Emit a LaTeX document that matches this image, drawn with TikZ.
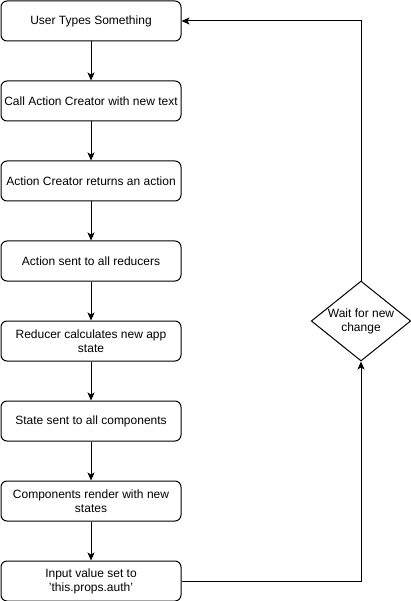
\documentclass[tikz,border=0pt]{standalone}
\usepackage{fontspec}
\setmainfont{Liberation Sans}
\usetikzlibrary{arrows.meta,shapes.geometric}
\begin{document}
\begin{tikzpicture}[x=1pt,y=-1pt,
  txt/.style={font=\fontsize{12}{14}\selectfont,align=center},
  stepbox/.style={draw,line width=1pt,rounded corners=6pt,minimum width=180pt,minimum height=40pt,inner sep=0pt,txt},
  waitdia/.style={draw,line width=1pt,diamond,minimum width=99.5pt,minimum height=80pt,inner sep=0pt},
  flow/.style={line width=1pt,-{Stealth[length=8pt,width=7pt,inset=2pt]}}]
\useasboundingbox (0,0) rectangle (411,601);
\node[stepbox] (a) at (91,21) {User Types Something};
\node[stepbox] (b) at (91,101) {Call Action Creator with new text};
\node[stepbox] (c) at (91,181) {Action Creator returns an action};
\node[stepbox] (d) at (91,261) {Action sent to all reducers};
\node[stepbox] (e) at (91,341) {Reducer calculates new app\\state};
\node[stepbox] (f) at (91,421) {State sent to all components};
\node[stepbox] (g) at (91,501) {Components render with new\\states};
\node[stepbox] (h) at (91,581) {Input value set to\\'this.props.auth'};
\node[waitdia,label={[txt,inner sep=0pt]center:Wait for new\\change}] (w) at (361,321) {};
\draw[flow] (a) -- (b);
\draw[flow] (b) -- (c);
\draw[flow] (c) -- (d);
\draw[flow] (d) -- (e);
\draw[flow] (e) -- (f);
\draw[flow] (f) -- (g);
\draw[flow] (g) -- (h);
\draw[flow] (h.east) -| (w.south);
\draw[flow] (w.north) |- (a.east);
\end{tikzpicture}
\end{document}
